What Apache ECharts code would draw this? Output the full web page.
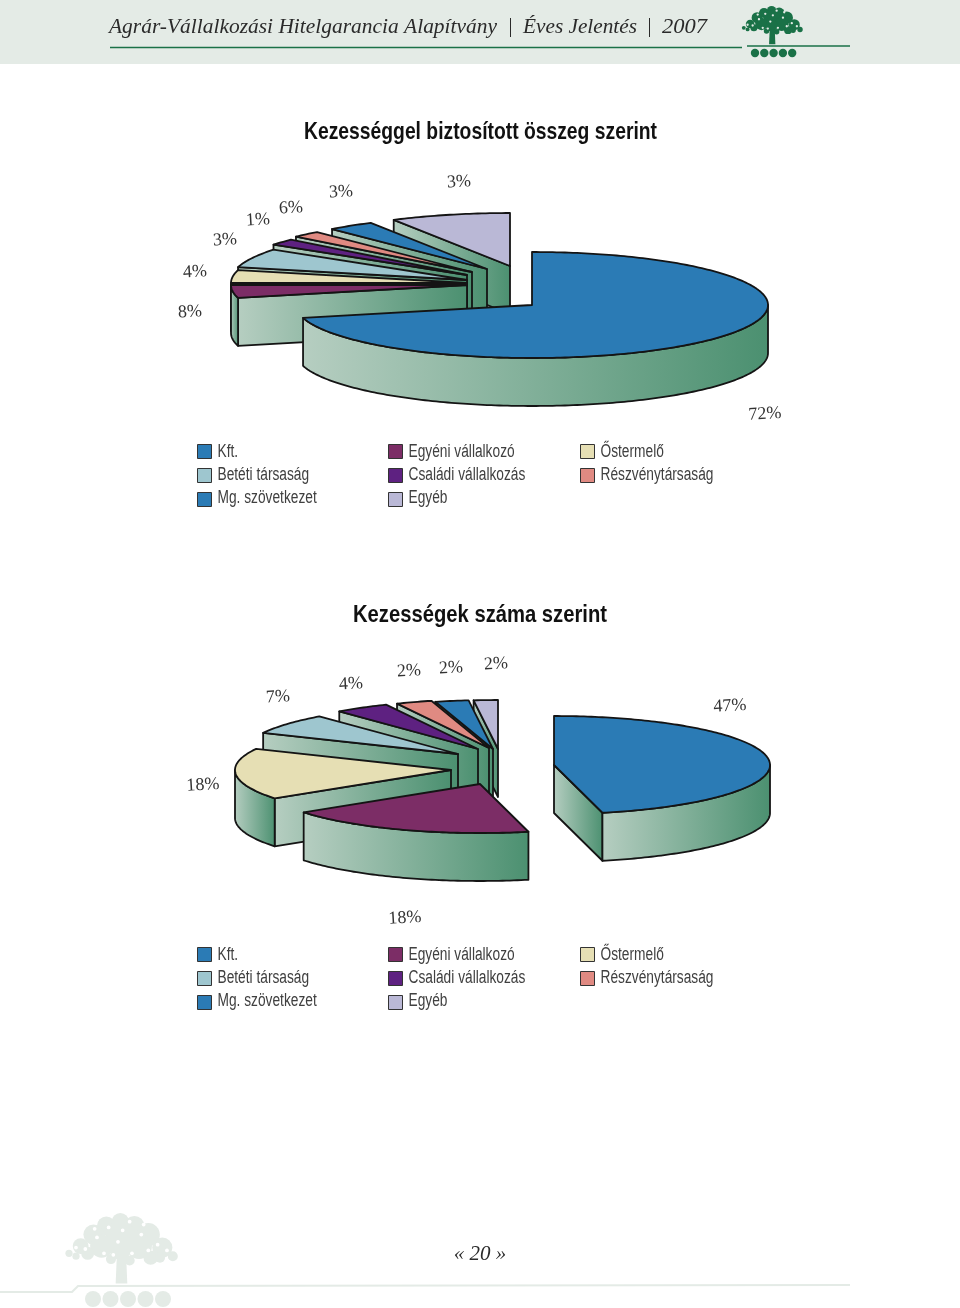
<!DOCTYPE html>
<html><head><meta charset="utf-8">
<style>html,body{margin:0;padding:0;background:#fff}#c{width:960px;height:1308px}</style>
<script src="https://cdn.jsdelivr.net/npm/echarts@6/dist/echarts.min.js"></script>
</head><body><div id="c"></div>
<script>
// ---- data ----
const sliceNames = ['Kft.','Egyéni vállalkozó','Őstermelő','Betéti társaság','Családi vállalkozás','Részvénytársaság','Mg. szövetkezet','Egyéb'];
const titleOne = 'Kezességgel biztosított összeg szerint';
const titleTwo = 'Kezességek száma szerint';
const amountShares = [71.1,3.9,3.9,5.8,1.9,2.0,3.2,8.2];
const countShares  = [46.4,18.8,16.9,6.8,4.1,2.7,2.5,1.8];
const amountLabels = ['72%','8%','4%','3%','1%','6%','3%','3%'];
const countLabels  = ['47%','18%','18%','7%','4%','2%','2%','2%'];
// ---- layout ----
const sliceColors = ['#2b7bb5','#7c2d66','#e6dfb4','#9ec6cf','#5e2181','#e08a82','#2b7bb5','#bab8d6'];
const legendCols = [[0,3,6],[1,4,7],[2,5]];
const legendX = [197,388,580];
const pie1 = {rx:236,ry:53,depth:48,tips:[[532,305],[467,285],[467,283],[467,280],[467,275],[472,272],[487,269],[510,266]],
  labelPos:[[765,414],[190,312],[195,272],[225,240],[258,220],[291,208],[341,192],[459,182]]};
const pie2 = {rx:216,ry:49,depth:48,tips:[[554,765],[480,784],[451,770],[458,754],[478,749],[489,748],[493,749],[498,749]],
  labelPos:[[730,706],[405,918],[203,785],[278,697],[351,684],[409,671],[451,668],[496,664]]};
const ink = '#141414';
const wallFill = {type:'linear',x:0,y:0,x2:1,y2:0,colorStops:[{offset:0,color:'#b6cec1'},{offset:1,color:'#4b9070'}]};

function rimPoint(tip,geo,deg){const a=deg*Math.PI/180;return [tip[0]+geo.rx*Math.sin(a),tip[1]-geo.ry*Math.cos(a)];}
function arc(tip,geo,from,to){const pts=[];const n=Math.max(2,Math.ceil(Math.abs(to-from)));for(let i=0;i<=n;i++)pts.push(rimPoint(tip,geo,from+(to-from)*i/n));return pts;}
const lineStyle={stroke:ink,lineWidth:1.8,lineJoin:'round'};

function sliceSeries(shares,geo,i){
  const before=shares.slice(0,i).reduce((a,b)=>a+b,0);
  return {
    type:'custom',name:sliceNames[i],coordinateSystem:'none',silent:true,z:20-i,
    itemStyle:{color:sliceColors[i]},
    data:[[before,shares[i]]],
    renderItem:function(params,api){
      const from=api.value(0)*3.6,to=(api.value(0)+api.value(1))*3.6,tip=geo.tips[i],d=geo.depth,kids=[];
      const wall=pts=>kids.push({type:'polygon',shape:{points:pts},style:Object.assign({fill:wallFill},lineStyle)});
      const down=p=>[p[0],p[1]+d];
      const cut=deg=>{const p=rimPoint(tip,geo,deg);wall([tip,p,down(p),down(tip)]);};
      if(Math.sin(from*Math.PI/180)<-1e-6)cut(from);
      if(Math.sin(to*Math.PI/180)>1e-6)cut(to);
      const a=Math.max(from,90),b=Math.min(to,270);
      if(b>a){const top=arc(tip,geo,a,b);wall(top.concat(top.slice().reverse().map(down)));}
      kids.push({type:'polygon',shape:{points:[tip].concat(arc(tip,geo,from,to))},style:Object.assign({fill:sliceColors[i]},lineStyle)});
      return {type:'group',children:kids};
    }
  };
}
const series=[];
sliceNames.forEach((n,i)=>{series.push(sliceSeries(amountShares,pie1,i));});
sliceNames.forEach((n,i)=>{series.push(sliceSeries(countShares,pie2,i));});

function legends(top){return legendCols.map((col,k)=>({
  orient:'vertical',left:legendX[k],top:top,padding:0,itemWidth:14,itemHeight:14,itemGap:9,selectedMode:false,
  icon:'rect',data:col.map(i=>sliceNames[i]),formatter:()=>'',
  itemStyle:{borderColor:'#333',borderWidth:1}
}));}

// condensed faces are not installed: regular faces are narrowed to the measured width
const measureCtx=document.createElement('canvas').getContext('2d');
function fitted(text,x,y,font,width,extra){
  measureCtx.font=`${font.style||'normal'} ${font.weight||'normal'} ${font.size}px "${font.family}"`;
  const w=measureCtx.measureText(text).width;
  return {type:'text',x:x,y:y,scaleX:width/w,originX:0,originY:0,style:Object.assign({text:text,fontFamily:font.family,fontSize:font.size,fontStyle:font.style||'normal',fontWeight:font.weight||'normal',verticalAlign:'middle',align:'left'},extra)};
}
measureCtx.font='18px "Liberation Sans"';
const legendScale=113/measureCtx.measureText('Részvénytársaság').width;
function legendTexts(rowOne){const out=[];legendCols.forEach((col,k)=>col.forEach((i,r)=>{
  out.push({type:'text',x:legendX[k]+20.5,y:rowOne+r*23,scaleX:legendScale,style:{text:sliceNames[i],fontFamily:'Liberation Sans',fontSize:18,fill:'#404040',verticalAlign:'middle',align:'left'}});
}));return out;}

function pctLabels(texts,pos){return texts.map((t,i)=>({type:'text',x:pos[i][0],y:pos[i][1],rotation:0.06,
  style:{text:t,fontFamily:'Liberation Serif',fontSize:18,fill:'#333',align:'center',verticalAlign:'middle'}}));}

const bandColor='#e4ebe6',green='#1a7147';
function tree(ox,oy,s,color,bg){
  const blobs=[[.5,.12,.12],[.38,.18,.13],[.62,.18,.14],[.27,.3,.14],[.74,.3,.16],[.5,.3,.2],[.16,.46,.11],[.86,.48,.14],[.34,.46,.16],[.66,.46,.18],[.5,.5,.15],[.22,.56,.09],[.76,.62,.1],[.06,.56,.05],[.95,.6,.07],[.42,.64,.07],[.58,.66,.07],[.12,.6,.05],[.84,.62,.07]];
  const specks=[[.4,.2],[.58,.12],[.3,.34],[.68,.3],[.48,.4],[.82,.44],[.2,.5],[.6,.56],[.36,.56],[.74,.52],[.52,.24],[.12,.48],[.44,.58],[.28,.22],[.7,.16],[.9,.52]];
  const w=s*1.62,h=s;
  const out=blobs.map(b=>({type:'circle',shape:{cx:ox+b[0]*w,cy:oy+b[1]*h,r:b[2]*h},style:{fill:color}}));
  out.push({type:'polygon',shape:{points:[[ox+.47*w,oy+.6*h],[ox+.55*w,oy+.6*h],[ox+.56*w,oy+.98*h],[ox+.46*w,oy+.98*h]]},style:{fill:color}});
  specks.forEach(p=>out.push({type:'circle',shape:{cx:ox+p[0]*w,cy:oy+p[1]*h,r:.022*h+.3},style:{fill:bg}}));
  return out;
}
function dots(x0,y,step,r,color){return [0,1,2,3,4].map(k=>({type:'circle',shape:{cx:x0+k*step,cy:y,r:r},style:{fill:color}}));}

const headFont={family:'Liberation Serif',style:'italic',size:22};
const headInk={fill:'#2a2a2a'};
const titleFont={family:'Liberation Sans',weight:'bold',size:24};
const graphic=[
  {type:'rect',shape:{x:0,y:0,width:960,height:64},style:{fill:bandColor}},
  fitted('Agrár-Vállalkozási Hitelgarancia Alapítvány',109,27,headFont,388,headInk),
  fitted('Éves Jelentés',523,27,headFont,114,headInk),
  fitted('2007',662,27,headFont,45,headInk),
  {type:'line',shape:{x1:510.5,y1:18,x2:510.5,y2:37},style:{stroke:'#2a2a2a',lineWidth:1}},
  {type:'line',shape:{x1:649.5,y1:18,x2:649.5,y2:37},style:{stroke:'#2a2a2a',lineWidth:1}},
  {type:'line',shape:{x1:110,y1:47.5,x2:742,y2:47.5},style:{stroke:green,lineWidth:1.6}},
  {type:'line',shape:{x1:747,y1:46,x2:850,y2:46},style:{stroke:green,lineWidth:1.6}},
  ...tree(740,6,39,green,bandColor),
  ...dots(755,53,9.3,4.2,green),
  fitted(titleOne,304,132,titleFont,353,{fill:'#111'}),
  fitted(titleTwo,353,615,titleFont,254,{fill:'#111'}),
  ...legendTexts(452),
  ...legendTexts(955),
  ...pctLabels(amountLabels,pie1.labelPos),
  ...pctLabels(countLabels,pie2.labelPos),
  ...tree(62,1213,72,'#e4ebe6','#ffffff'),
  ...dots(93,1299,17.5,8,'#e4ebe6'),
  {type:'polyline',shape:{points:[[0,1292],[72,1292],[78,1286],[850,1285]]},style:{stroke:'#e4ebe6',lineWidth:2,fill:null}},
  {type:'text',x:480,y:1254,style:{text:'« 20 »',fontFamily:'Liberation Serif',fontStyle:'italic',fontSize:21,fill:'#2a2a2a',align:'center',verticalAlign:'middle'}}
];

const chart=echarts.init(document.getElementById('c'),null,{width:960,height:1308});
chart.setOption({
  animation:false,backgroundColor:'#fff',
  legend:[...legends(444),...legends(947)],
  graphic:graphic,
  series:series
});
</script></body></html>
